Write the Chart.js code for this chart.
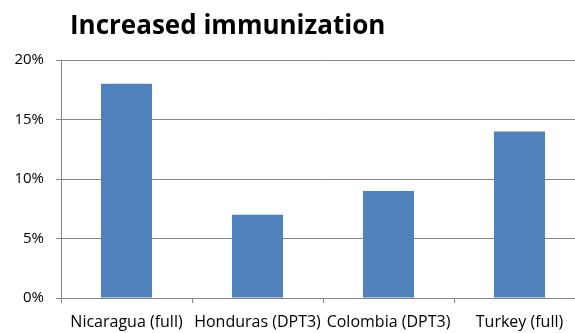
<!DOCTYPE html>
<html>
<head>
<meta charset="utf-8">
<script src="https://cdn.jsdelivr.net/npm/chart.js@4"></script>
<style>
html,body{margin:0;padding:0;overflow:hidden;background:#fff;width:575px;height:333px;}
#wrap{width:600px;height:333px;position:absolute;left:0;top:0;}
</style>
</head>
<body>
<div id="wrap"><canvas id="c" width="600" height="333"></canvas></div>
<script>
const titleText = "Increased immunization";
const categories = ["Nicaragua (full)", "Honduras (DPT3)", "Colombia (DPT3)", "Turkey (full)"];
const values = [0.18, 0.07, 0.09, 0.14];
const yTicks = [0, 0.05, 0.10, 0.15, 0.20];

const FONT = "'Open Sans', sans-serif";
const GRID = "#868686";

const titlePlugin = {
  id: 'leftTitle',
  afterDraw(chart) {
    const ctx = chart.ctx;
    ctx.save();
    ctx.font = "bold 26px " + FONT;
    ctx.fillStyle = "#000";
    ctx.textBaseline = "alphabetic";
    ctx.textAlign = "left";
    ctx.fillText(titleText, 70, 34);
    ctx.restore();
  }
};

new Chart(document.getElementById('c'), {
  type: 'bar',
  data: {
    labels: categories,
    datasets: [{
      data: values,
      backgroundColor: '#4F81BD',
      borderWidth: 0,
      barPercentage: 0.39,
      categoryPercentage: 1.0
    }]
  },
  options: {
    responsive: false,
    animation: false,
    devicePixelRatio: 1,
    layout: { padding: { top: 60, right: 15, left: 0, bottom: 0 } },
    plugins: { legend: { display: false }, title: { display: false }, tooltip: { enabled: false } },
    scales: {
      x: {
        type: 'category',
        afterFit(s) { s.height = 35; },
        grid: { offset: true, drawOnChartArea: false, drawTicks: true, tickLength: 5, color: GRID },
        border: { color: GRID, width: 1 },
        ticks: { color: '#000', font: { family: FONT, size: 16 }, padding: 10, maxRotation: 0, minRotation: 0, autoSkip: false }
      },
      y: {
        min: 0, max: 0.20,
        afterFit(s) { s.width = 61; },
        afterBuildTicks(s) { s.ticks = yTicks.map(v => ({ value: v })); },
        grid: { color: GRID, tickLength: 5 },
        border: { color: GRID, width: 1 },
        ticks: { color: '#000', font: { family: FONT, size: 15 }, padding: 12,
          callback: v => Math.round(v * 100) + '%' }
      }
    }
  },
  plugins: [titlePlugin]
});
</script>
</body>
</html>
